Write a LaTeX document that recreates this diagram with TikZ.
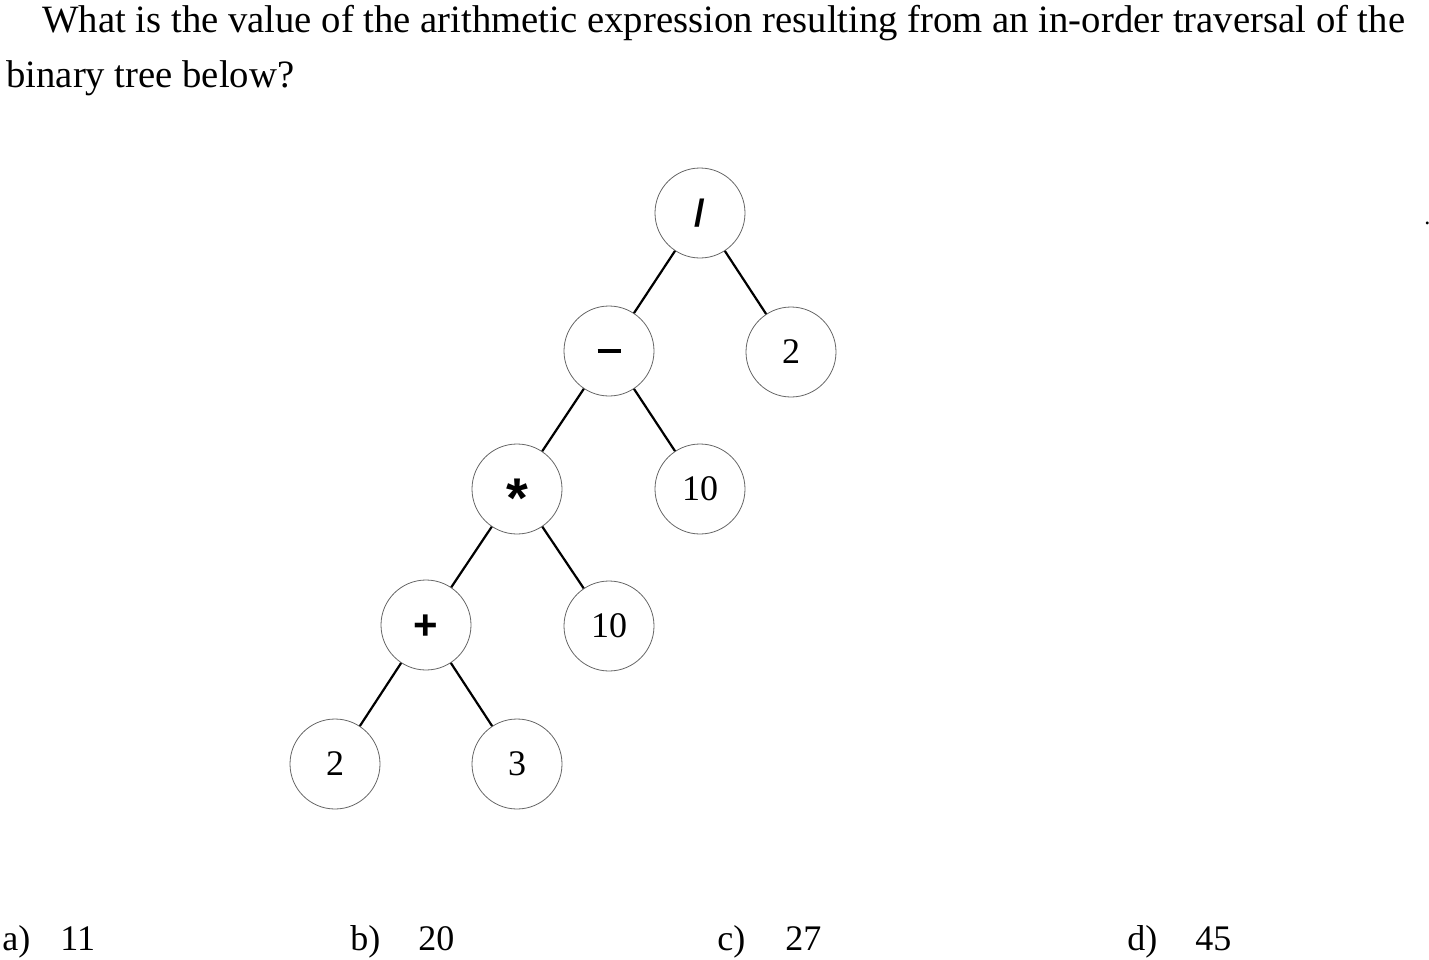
\documentclass[tikz,border=0pt]{standalone}
\usepackage{fontspec}
\setmainfont{Liberation Serif}
\newfontfamily\opfont{Liberation Sans}
\newcommand{\centeredop}[2]{\raisebox{-#2}[0pt][0pt]{#1}}
\begin{document}
\begin{tikzpicture}[x=0.5pt,y=-0.5pt,
  tnode/.style={circle,draw=black!60,line width=0.4pt,minimum size=45pt,inner sep=0pt,font=\fontsize{18}{20}\selectfont},
  opnode/.style={tnode,font=\opfont\bfseries},
  edge/.style={line width=1.1pt,black},
  txt/.style={anchor=base west,inner sep=0pt,font=\fontsize{18}{20}\selectfont},
  qtxt/.style={anchor=base west,inner sep=0pt,font=\fontsize{19.35}{21}\selectfont}]
\useasboundingbox (0,0) rectangle (1429,959);
\node[qtxt] (q1) at (42,32) {What is the value of the arithmetic expression resulting from an in-order traversal of the};
\node[qtxt] (q2) at (6,87) {binary tree below?};
\node[txt,font=\fontsize{12}{14}\selectfont] (dot) at (1424,224) {.};
\node[opnode] (div) at (700,213) {\fontsize{19}{20}\selectfont\centeredop{/}{0.35em}};
\node[opnode] (minus) at (609,351) {\rule[-0.85pt]{11.5pt}{1.7pt}};
\node[tnode] (two1) at (791,352) {2};
\node[opnode] (mul) at (517,489) {\fontsize{28}{30}\selectfont\centeredop{*}{0.51em}};
\node[tnode] (ten1) at (700,489) {10};
\node[opnode] (plus) at (426,625) {\fontsize{21}{22}\selectfont\centeredop{+}{0.34em}};
\node[tnode] (ten2) at (609,626) {10};
\node[tnode] (two2) at (335,764) {2};
\node[tnode] (three) at (517,764) {3};
\draw[edge] (div) -- (minus);
\draw[edge] (div) -- (two1);
\draw[edge] (minus) -- (mul);
\draw[edge] (minus) -- (ten1);
\draw[edge] (mul) -- (plus);
\draw[edge] (mul) -- (ten2);
\draw[edge] (plus) -- (two2);
\draw[edge] (plus) -- (three);
\node[txt] (a) at (2,950) {a)};
\node[txt] (av) at (60,950) {11};
\node[txt] (b) at (350,950) {b)};
\node[txt] (bv) at (418,950) {20};
\node[txt] (c) at (717,950) {c)};
\node[txt] (cv) at (785,950) {27};
\node[txt] (d) at (1127,950) {d)};
\node[txt] (dv) at (1195,950) {45};
\end{tikzpicture}
\end{document}
